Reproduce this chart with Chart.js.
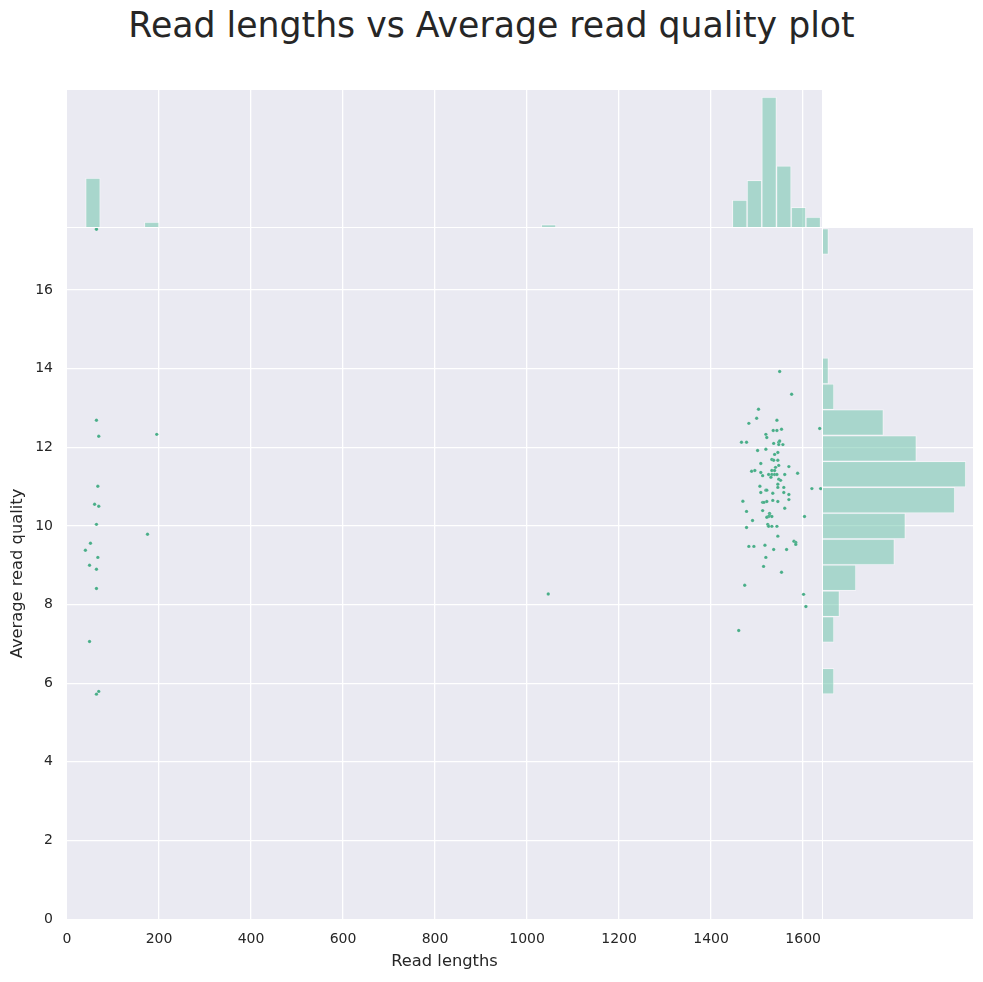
<!DOCTYPE html>
<html>
<head>
<meta charset="utf-8">
<script src="https://cdn.jsdelivr.net/npm/chart.js@4.4.1/dist/chart.umd.min.js"></script>
<style>
  body { margin: 0; background: #fff; width: 983px; height: 982px; overflow: hidden; position: relative; }
  canvas { position: absolute; }
  #title { position: absolute; left: 0; top: 5px; width: 983px; text-align: center;
           font-family: 'DejaVu Sans', sans-serif; font-size: 34.7px; color: #262626; }
</style>
</head>
<body>
<div id="title">Read lengths vs Average read quality plot</div>
<canvas id="topHist" width="755" height="137" style="left:67px; top:90px;"></canvas>
<canvas id="mainPlot" width="822" height="754" style="left:0px; top:228px;"></canvas>
<canvas id="rightHist" width="150" height="691" style="left:823px; top:228px;"></canvas>
<script>
// scatter points
const readLengths = [
    64, 64, 69, 195, 67, 60, 69, 64, 175, 51, 40, 67, 49, 64, 64, 49, 69, 64,
    1046,
    1549, 1575, 1503, 1499, 1482, 1543, 1535, 1543, 1553, 1519, 1521, 1466, 1477, 1536, 1547, 1549, 1547, 1556, 1501, 1519, 1545, 1538, 1636,
    1508, 1532, 1536, 1545, 1540, 1547, 1569, 1488, 1495, 1508, 1532, 1538, 1512, 1525, 1532, 1538, 1543, 1530, 1560, 1588,
    1547, 1551, 1545, 1545, 1506, 1558, 1519, 1521, 1534, 1558, 1619, 1638, 1508, 1569, 1469, 1512, 1515, 1521, 1534, 1545,
    1569, 1560, 1477, 1512, 1527, 1527, 1525, 1532, 1521, 1603, 1490, 1523, 1525, 1532, 1543, 1477, 1545, 1482, 1493, 1517,
    1536, 1564, 1580, 1584, 1584,
    1519, 1514, 1553, 1473, 1601, 1606, 1460
];
const readQualities = [
    17.55, 12.69, 12.28, 12.33, 11.01, 10.55, 10.50, 10.04, 9.79, 9.56, 9.38, 9.20, 9.00, 8.90, 8.41, 7.06, 5.79, 5.72,
    8.27,
    13.93, 13.35, 12.97, 12.74, 12.61, 12.69, 12.43, 12.43, 12.46, 12.33, 12.25, 12.13, 12.13, 12.10, 12.13, 12.16, 12.07, 12.07, 11.92, 11.95, 11.87, 11.82, 12.48,
    11.59, 11.69, 11.67, 11.67, 11.49, 11.54, 11.51, 11.39, 11.41, 11.36, 11.41, 11.41, 11.28, 11.31, 11.31, 11.31, 11.31, 11.24, 11.31, 11.34,
    11.19, 11.16, 11.06, 10.98, 11.01, 10.98, 10.91, 10.91, 10.83, 10.85, 10.95, 10.95, 10.85, 10.80, 10.63, 10.60, 10.60, 10.62, 10.65, 10.62,
    10.67, 10.45, 10.37, 10.39, 10.32, 10.27, 10.24, 10.24, 10.22, 10.24, 10.14, 10.04, 9.99, 9.99, 9.99, 9.96, 9.74, 9.48, 9.48, 9.51,
    9.40, 9.40, 9.61, 9.58, 9.53,
    9.20, 8.97, 8.82, 8.49, 8.26, 7.95, 7.34
];

// marginal histograms (bin start, bin width, counts)
const lengthBinStart = 40.4;
const lengthBinWidth = 31.95;
const lengthCounts = [
    20, 0, 0, 0, 2, 0, 0, 0, 0, 0,
    0, 0, 0, 0, 0, 0, 0, 0, 0, 0,
    0, 0, 0, 0, 0, 0, 0, 0, 0, 0,
    0, 1, 0, 0, 0, 0, 0, 0, 0, 0,
    0, 0, 0, 0, 11, 19, 53, 25, 8, 4
];
const qualityBinStart = 5.72;
const qualityBinWidth = 0.658;
const qualityCounts = [2, 0, 2, 3, 6, 13, 15, 24, 26, 17, 11, 2, 1, 0, 0, 0, 0, 1];

const xTicks = [0, 200, 400, 600, 800, 1000, 1200, 1400, 1600];
const yTicks = [0, 2, 4, 6, 8, 10, 12, 14, 16];

const xMax = 1641;
const yMax = 17.58;

const bgColor = '#EAEAF2';
const textColor = '#262626';
const barFill = 'rgba(102,194,165,0.5)';
const barEdge = 'rgba(255,255,255,0.45)';
const fontFamily = "'DejaVu Sans', sans-serif";

const plotBackground = {
    id: 'plotBackground',
    beforeDraw(chart) {
        const { ctx, chartArea: a } = chart;
        ctx.save();
        ctx.fillStyle = bgColor;
        ctx.fillRect(a.left, a.top, a.right - a.left, a.bottom - a.top);
        ctx.restore();
    }
};

function gridColor(ctx) {
    return ctx.tick && ctx.tick.value === 0 ? 'rgba(0,0,0,0)' : '#ffffff';
}

function fixedSize(size, vertical) {
    return function(scale) {
        if (vertical) scale.width = size; else scale.height = size;
        scale.paddingTop = 0; scale.paddingBottom = 0;
        scale.paddingLeft = 0; scale.paddingRight = 0;
    };
}

function useTicks(values) {
    return function(scale) {
        scale.ticks = values.map(v => ({ value: v }));
    };
}

Chart.defaults.font.family = fontFamily;
Chart.defaults.color = textColor;

// joint scatter
new Chart(document.getElementById('mainPlot'), {
    type: 'scatter',
    data: {
        datasets: [{
            data: readLengths.map((x, i) => ({ x: x, y: readQualities[i] })),
            backgroundColor: '#48ad88',
            borderColor: 'rgba(255,255,255,0.35)',
            borderWidth: 0.4,
            pointRadius: 1.7
        }]
    },
    options: {
        responsive: false,
        animation: false,
        layout: { padding: 0, autoPadding: false },
        plugins: { legend: { display: false }, tooltip: { enabled: false } },
        scales: {
            x: {
                type: 'linear', min: 0, max: xMax,
                afterBuildTicks: useTicks(xTicks),
                afterFit: fixedSize(63, false),
                ticks: { padding: 12, font: { size: 14 }, color: textColor, callback: v => String(v), maxRotation: 0 },
                grid: { color: gridColor, lineWidth: 1.3, drawTicks: false },
                border: { display: false },
                title: { display: true, text: 'Read lengths', font: { size: 16.3 }, color: textColor, padding: { top: 0, bottom: 10 } }
            },
            y: {
                type: 'linear', min: 0, max: yMax,
                afterBuildTicks: useTicks(yTicks),
                afterFit: fixedSize(67, true),
                ticks: { padding: 14, font: { size: 14 }, color: textColor },
                grid: { color: gridColor, lineWidth: 1.3, drawTicks: false },
                border: { display: false },
                title: { display: true, text: 'Average read quality', font: { size: 16.3 }, color: textColor, padding: { top: 8, bottom: 0 } }
            }
        }
    },
    plugins: [plotBackground]
});

// top marginal: read lengths
new Chart(document.getElementById('topHist'), {
    type: 'bar',
    data: {
        datasets: [{
            data: lengthCounts.map((c, i) => ({ x: lengthBinStart + (i + 0.5) * lengthBinWidth, y: c })),
            backgroundColor: barFill,
            borderColor: barEdge,
            borderWidth: 1,
            barPercentage: 1,
            categoryPercentage: 1,
            grouped: false
        }]
    },
    options: {
        responsive: false,
        animation: false,
        layout: { padding: 0, autoPadding: false },
        plugins: { legend: { display: false }, tooltip: { enabled: false } },
        scales: {
            x: {
                type: 'linear', min: 0, max: xMax, offset: false,
                afterBuildTicks: useTicks(xTicks),
                afterFit: fixedSize(0, false),
                ticks: { display: false },
                grid: { color: gridColor, lineWidth: 1.3, drawTicks: false, offset: false },
                border: { display: false }
            },
            y: { type: 'linear', min: 0, max: 55.9, display: false }
        }
    },
    plugins: [plotBackground]
});

// right marginal: read quality
new Chart(document.getElementById('rightHist'), {
    type: 'bar',
    data: {
        datasets: [{
            data: qualityCounts.map((c, i) => ({ y: qualityBinStart + (i + 0.5) * qualityBinWidth, x: c })),
            backgroundColor: barFill,
            borderColor: barEdge,
            borderWidth: 1,
            barPercentage: 1,
            categoryPercentage: 1,
            grouped: false
        }]
    },
    options: {
        indexAxis: 'y',
        responsive: false,
        animation: false,
        layout: { padding: 0, autoPadding: false },
        plugins: { legend: { display: false }, tooltip: { enabled: false } },
        scales: {
            y: {
                type: 'linear', min: 0, max: yMax, offset: false,
                afterBuildTicks: useTicks(yTicks),
                afterFit: fixedSize(0, true),
                ticks: { display: false },
                grid: { color: gridColor, lineWidth: 1.3, drawTicks: false, offset: false },
                border: { display: false }
            },
            x: { type: 'linear', min: 0, max: 27.3, display: false }
        }
    },
    plugins: [plotBackground]
});
</script>
</body>
</html>
